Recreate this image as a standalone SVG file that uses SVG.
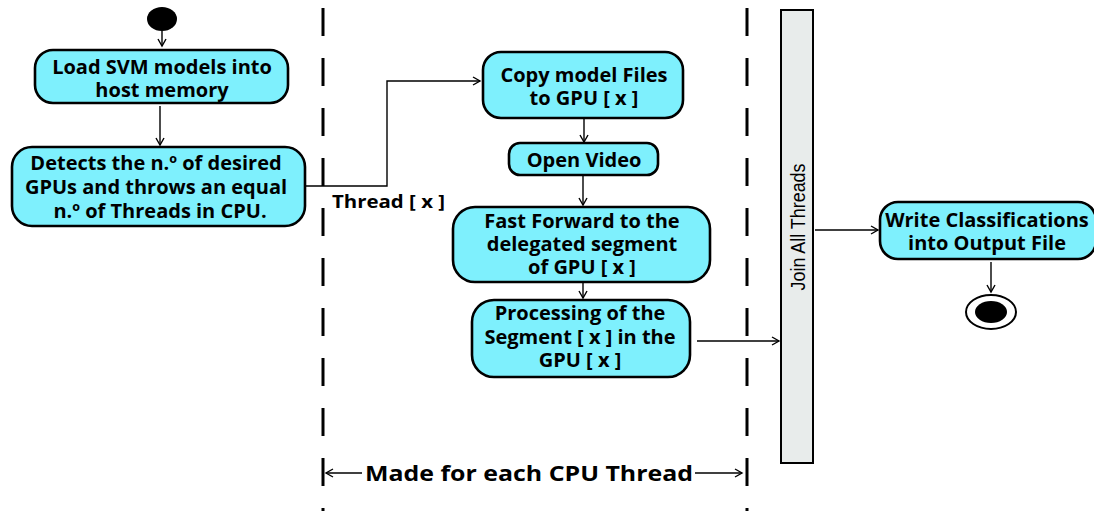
<svg xmlns="http://www.w3.org/2000/svg" width="1094" height="511" viewBox="0 0 1094 511">
  <defs>
    <style>
      .act { fill: #7ef0fd; stroke: #000; stroke-width: 2.6; }
      .lbl { font-family: "Open Sans", "Liberation Sans", sans-serif; font-weight: 700; font-size: 20px; fill: #000; text-anchor: middle; }
      .edge { fill: none; stroke: #000; stroke-width: 1.4; }
      .lane { stroke: #000; stroke-width: 3; stroke-dasharray: 28 22; fill: none; }
      .note { font-family: "Open Sans", "Liberation Sans", sans-serif; font-weight: 700; fill: #000; }
    </style>
    <marker id="arrow" markerWidth="10" markerHeight="10" refX="8" refY="5" orient="auto" markerUnits="userSpaceOnUse">
      <path d="M1,1 L8,5 L1,9" fill="none" stroke="#000" stroke-width="1.4"/>
    </marker>
  </defs>
  <rect width="1094" height="511" fill="#fff"/>

  <!-- swimlane boundaries for the per-thread section -->
  <g id="lanes">
    <line class="lane" x1="323" y1="8" x2="323" y2="511"/>
    <line class="lane" x1="747" y1="8" x2="747" y2="511"/>
  </g>

  <g id="connectors">
    <line class="edge" x1="162" y1="31" x2="162" y2="46" marker-end="url(#arrow)"/>
    <line class="edge" x1="160" y1="106" x2="160" y2="145" marker-end="url(#arrow)"/>
    <polyline class="edge" points="306,186 387,186 387,81 480,81" marker-end="url(#arrow)"/>
    <line class="edge" x1="584" y1="119" x2="584" y2="142" marker-end="url(#arrow)"/>
    <line class="edge" x1="583" y1="176" x2="583" y2="205" marker-end="url(#arrow)"/>
    <line class="edge" x1="583" y1="283" x2="583" y2="298" marker-end="url(#arrow)"/>
    <line class="edge" x1="697" y1="341" x2="779" y2="341" marker-end="url(#arrow)"/>
    <line class="edge" x1="815" y1="230" x2="878" y2="230" marker-end="url(#arrow)"/>
    <line class="edge" x1="991" y1="262" x2="991" y2="292" stroke-width="2" marker-end="url(#arrow)"/>
    <line class="edge" x1="362" y1="473" x2="326" y2="473" marker-end="url(#arrow)"/>
    <line class="edge" x1="695" y1="473" x2="742" y2="473" marker-end="url(#arrow)"/>
  </g>

  <g id="start">
    <ellipse cx="162" cy="19" rx="15" ry="12" fill="#000"/>
  </g>

  <g id="load-models">
    <rect class="act" x="35" y="50" width="253" height="53" rx="18"/>
    <text class="lbl" x="162" y="74">Load SVM models into<tspan x="162" dy="23">host memory</tspan></text>
  </g>

  <g id="detect-gpus">
    <rect class="act" x="12" y="147" width="293" height="79" rx="20"/>
    <text class="lbl" x="156" y="170">Detects the n.º of desired<tspan x="156" dy="24">GPUs and throws an equal</tspan><tspan x="160" dy="24">n.º of Threads in CPU.</tspan></text>
  </g>

  <text class="note" x="332" y="208" font-size="17.5" textLength="113" lengthAdjust="spacingAndGlyphs">Thread [ x ]</text>

  <g id="copy-models">
    <rect class="act" x="483" y="52" width="200" height="66" rx="18"/>
    <text class="lbl" x="584" y="82">Copy  model Files<tspan x="584" dy="23">to GPU [ x ]</tspan></text>
  </g>

  <g id="open-video">
    <rect class="act" x="509" y="143" width="149" height="32" rx="11"/>
    <text class="lbl" x="584" y="167">Open Video</text>
  </g>

  <g id="fast-forward">
    <rect class="act" x="453" y="207" width="257" height="75" rx="22"/>
    <text class="lbl" x="582" y="228">Fast Forward to the<tspan x="582" dy="23">delegated segment</tspan><tspan x="582" dy="23">of  GPU [ x ]</tspan></text>
  </g>

  <g id="processing">
    <rect class="act" x="472" y="300" width="218" height="77" rx="22"/>
    <text class="lbl" x="580" y="320">Processing of the<tspan x="580" dy="24">Segment [ x ] in the</tspan><tspan x="580" dy="23">GPU [ x ]</tspan></text>
  </g>

  <g id="join">
    <rect x="781" y="10" width="32" height="453" fill="#e8eceb" stroke="#000" stroke-width="2"/>
    <text x="0" y="0" transform="translate(805,227) rotate(-90)" font-family="Liberation Sans, Arial, sans-serif" font-size="20" text-anchor="middle" textLength="127" lengthAdjust="spacingAndGlyphs">Join All Threads</text>
  </g>

  <g id="write-output">
    <rect class="act" x="880" y="202" width="216" height="57" rx="18"/>
    <text class="lbl" x="987" y="227">Write Classifications<tspan x="987" dy="23">into Output File</tspan></text>
  </g>

  <g id="end">
    <ellipse cx="991" cy="312" rx="25" ry="17" fill="#fff" stroke="#000" stroke-width="2"/>
    <ellipse cx="991" cy="312" rx="16" ry="11" fill="#000"/>
  </g>

  <text class="note" x="365" y="481" font-size="21" textLength="328" lengthAdjust="spacingAndGlyphs">Made for each CPU Thread</text>
</svg>
